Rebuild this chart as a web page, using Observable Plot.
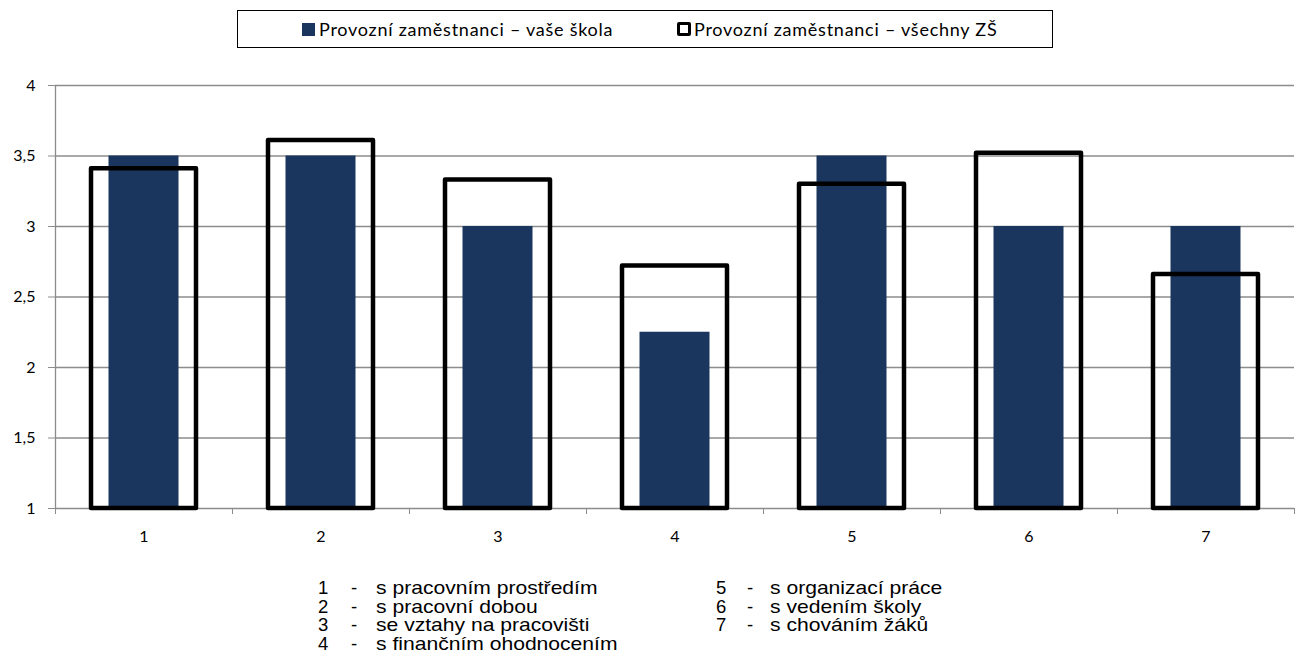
<!DOCTYPE html>
<html><head><meta charset="utf-8">
<script src="https://cdn.jsdelivr.net/npm/d3@7"></script>
<script src="https://cdn.jsdelivr.net/npm/@observablehq/plot@0.6"></script>
<style>
body{margin:0;background:#fff;width:1295px;height:668px;overflow:hidden;font-family:Lato,sans-serif;}
#legend{position:absolute;left:237px;top:10px;width:814px;height:36px;border:1px solid #000;font-size:18px;letter-spacing:0.75px;}
.li{position:absolute;top:7px;white-space:nowrap;display:flex;align-items:center;}
.sw{display:inline-block;width:13px;height:13px;margin-right:4px;box-sizing:border-box;}
#chart{position:absolute;left:0;top:60px;}
#chart svg text{font-size:16px;}
#notes{position:absolute;left:0;top:579px;font-family:"Liberation Sans",Arial,sans-serif;font-size:18.5px;line-height:18.5px;}
.row{white-space:nowrap;position:relative;height:18.5px;}
.row span{position:absolute;top:0;}
.row span.t{transform:scaleX(1.14);transform-origin:0 0;}
</style></head>
<body>
<div id="legend"></div>
<div id="chart"></div>
<div id="notes"></div>
<script>
const categories = ["1","2","3","4","5","6","7"];
const seriesNames = ["Provozní zaměstnanci – vaše škola","Provozní zaměstnanci – všechny ZŠ"];
const schoolValues = [3.5,3.5,3,2.25,3.5,3,3];
const allValues = [3.41,3.61,3.33,2.72,3.30,3.52,2.66];
const yTicks = [1,1.5,2,2.5,3,3.5,4];
const noteLabels = ["s pracovním prostředím","s pracovní dobou","se vztahy na pracovišti","s finančním ohodnocením","s organizací práce","s vedením školy","s chováním žáků"];

const navy = "#1a365e";
const school = categories.map((c,i)=>({i, c, v: schoolValues[i]}));
const all = categories.map((c,i)=>({i, c, v: allValues[i]}));

// legend
const lg = document.getElementById("legend");
lg.innerHTML = `<div class="li" style="left:64px"><span class="sw" style="background:${navy}"></span>${seriesNames[0]}</div>
<div class="li" style="left:439px"><span class="sw" style="border:3px solid #000;border-radius:2px;width:14px;height:14px;margin-right:3px"></span>${seriesNames[1]}</div>`;

const fmt = d => String(d).replace(".", ",");
const plot = Plot.plot({
  width: 1295, height: 510,
  marginLeft: 55, marginRight: 1, marginTop: 25, marginBottom: 62,
  style: {fontFamily: "Lato, sans-serif", fontSize: "16px", color: "#000", background: "#fff", overflow: "visible"},
  x: {type: "linear", domain: [0, categories.length], axis: null},
  y: {domain: [1, 4], axis: null},
  marks: [
    Plot.gridY(yTicks, {stroke: "#8c8c8c", strokeOpacity: 1, strokeWidth: 1.3}),
    Plot.ruleX([0], {stroke: "#8c8c8c", strokeWidth: 1.3}),
    Plot.axisY({ticks: yTicks, tickSize: 7, tickPadding: 13, tickFormat: fmt, stroke: "#8c8c8c", fontSize: 16, label: null}),
    Plot.axisX({ticks: d3.range(0, categories.length + 1), tickSize: 6, tickFormat: () => "", stroke: "#8c8c8c", label: null}),
    Plot.axisX({ticks: categories.map((c,i)=>i+0.5), tickSize: 0, tickPadding: 22, tickFormat: d => categories[Math.floor(d)], fontSize: 16, label: null}),
    Plot.rect(school, {x1: d=>d.i, x2: d=>d.i+1, y1: () => 1, y2: "v", fill: navy, insetLeft: 53.5, insetRight: 53.5}),
    Plot.rect(all, {x1: d=>d.i, x2: d=>d.i+1, y1: () => 1, y2: "v", fill: "none", stroke: "#000", strokeWidth: 4.5, strokeLinejoin: "round", insetLeft: 36, insetRight: 36})
  ]
});
document.getElementById("chart").appendChild(plot);

// notes
const notes = document.getElementById("notes");
const col = (items, offset, left, dashX, textX) => {
  const d = document.createElement("div");
  d.style.position = "absolute"; d.style.left = left + "px"; d.style.top = "0";
  d.innerHTML = items.map((t,k)=>`<div class="row"><span style="left:0">${categories[offset+k]}</span><span style="left:${dashX}px">-</span><span class="t" style="left:${textX}px">${t}</span></div>`).join("");
  notes.appendChild(d);
};
col(noteLabels.slice(0,4), 0, 318, 33, 58);
col(noteLabels.slice(4), 4, 716, 31, 54);
</script>
</body></html>
